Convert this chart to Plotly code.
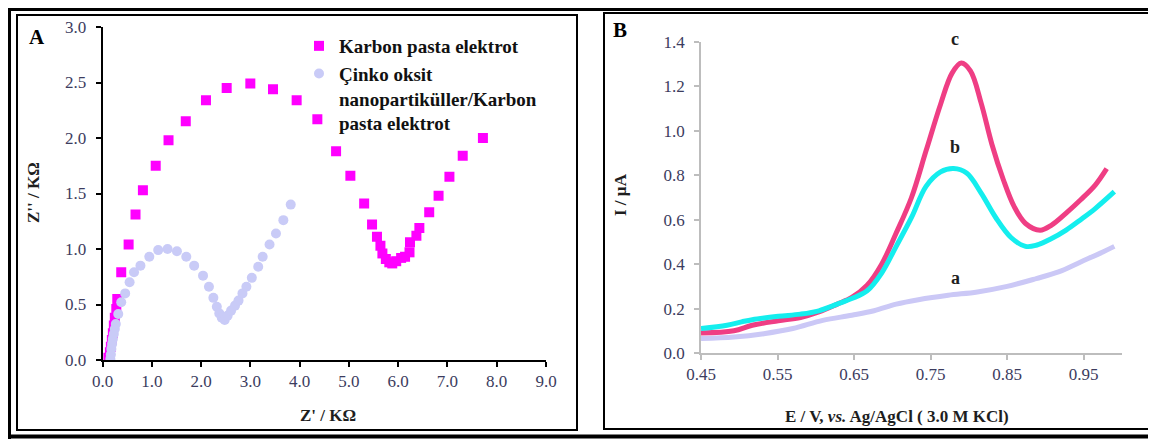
import plotly.graph_objects as go

# Page body has an 8px default margin, so the figure is drawn at (8, 8).
OFF = 8
W, H = 1156 - OFF, 439 - OFF

# ---------------- Panel A data (Nyquist) ----------------
karbon_zre = [0.12, 0.15, 0.17, 0.19, 0.21, 0.23, 0.25, 0.28, 0.30, 0.38, 0.53, 0.67, 0.82, 1.08,
              1.34, 1.69, 2.10, 2.52, 3.00, 3.46, 3.94, 4.36, 4.74, 5.03, 5.31, 5.47, 5.57, 5.64,
              5.68, 5.75, 5.82, 5.88, 5.96, 6.06, 6.14, 6.23, 6.24, 6.37, 6.43, 6.63, 6.82, 7.04,
              7.31, 7.72]
karbon_zim = [0.02, 0.07, 0.12, 0.18, 0.24, 0.31, 0.38, 0.46, 0.55, 0.79, 1.04, 1.31, 1.53, 1.75,
              1.98, 2.15, 2.34, 2.45, 2.49, 2.44, 2.34, 2.17, 1.88, 1.66, 1.41, 1.22, 1.11, 1.03,
              0.96, 0.91, 0.88, 0.87, 0.89, 0.92, 0.93, 0.97, 1.06, 1.12, 1.19, 1.33, 1.48, 1.65,
              1.84, 2.00]

zno_zre = [0.16, 0.17, 0.18, 0.195, 0.21, 0.23, 0.25, 0.27, 0.32, 0.38, 0.46, 0.55, 0.64, 0.77,
           0.95, 1.13, 1.32, 1.51, 1.70, 1.86, 2.04, 2.16, 2.25, 2.32, 2.37, 2.42, 2.48, 2.54,
           2.61, 2.69, 2.76, 2.84, 2.92, 3.03, 3.16, 3.25, 3.39, 3.52, 3.67, 3.82]
zno_zim = [0.01, 0.05, 0.10, 0.145, 0.19, 0.235, 0.28, 0.325, 0.415, 0.52, 0.60, 0.70, 0.79, 0.85,
           0.93, 0.99, 1.00, 0.98, 0.93, 0.85, 0.76, 0.66, 0.56, 0.48, 0.42, 0.38, 0.36, 0.40,
           0.445, 0.49, 0.535, 0.60, 0.66, 0.74, 0.84, 0.93, 1.04, 1.14, 1.26, 1.40]

a_xticks = [0, 1, 2, 3, 4, 5, 6, 7, 8, 9]
a_yticks = [0, 0.5, 1.0, 1.5, 2.0, 2.5, 3.0]

# ---------------- Panel B data (DPV) ----------------
c_E = [0.45, 0.493, 0.517, 0.551, 0.58, 0.604, 0.628, 0.647, 0.667, 0.686, 0.705, 0.725, 0.744,
       0.763, 0.778, 0.790, 0.802, 0.816, 0.830, 0.845, 0.859, 0.874, 0.893, 0.908, 0.927, 0.946,
       0.965, 0.980]
c_I = [0.09, 0.10, 0.125, 0.145, 0.16, 0.185, 0.22, 0.25, 0.305, 0.40, 0.54, 0.70, 0.91,
       1.12, 1.26, 1.305, 1.27, 1.125, 0.94, 0.78, 0.66, 0.583, 0.553, 0.576, 0.63, 0.69,
       0.756, 0.83]

b_E = [0.45, 0.484, 0.503, 0.517, 0.551, 0.58, 0.604, 0.628, 0.647, 0.667, 0.686, 0.705, 0.725,
       0.744, 0.763, 0.780, 0.797, 0.816, 0.835, 0.855, 0.874, 0.888, 0.908, 0.927, 0.946, 0.965,
       0.990]
b_I = [0.11, 0.125, 0.14, 0.15, 0.165, 0.175, 0.19, 0.22, 0.245, 0.28, 0.36, 0.48, 0.61,
       0.75, 0.815, 0.83, 0.81, 0.72, 0.61, 0.52, 0.48, 0.485, 0.515, 0.553, 0.60, 0.65,
       0.726]

a_E = [0.45, 0.493, 0.532, 0.57, 0.609, 0.647, 0.676, 0.705, 0.734, 0.773, 0.811, 0.85, 0.888,
       0.917, 0.946, 0.975, 0.990]
a_I = [0.065, 0.072, 0.087, 0.11, 0.147, 0.17, 0.19, 0.22, 0.24, 0.26, 0.275, 0.30, 0.335,
       0.365, 0.41, 0.455, 0.48]

b_xticks = [0.45, 0.55, 0.65, 0.75, 0.85, 0.95]
b_yticks = [0.0, 0.2, 0.4, 0.6, 0.8, 1.0, 1.2, 1.4]

curve_labels = ["b", "a"]
label_E = [0.782, 0.782]
label_I = [0.928, 0.338]

SERIF = "Liberation Serif"
TICKCOL = "#3c3c5e"
TITLECOL = "#1e1e1e"


def px_x(p):
    return (p - OFF) / W


def px_y(p):
    return 1 - (p - OFF) / H


fig = go.Figure()

fig.add_trace(go.Scatter(
    x=karbon_zre, y=karbon_zim, mode="markers", name="Karbon pasta elektrot",
    marker=dict(symbol="square", size=10, color="#FF00FF"),
    xaxis="x", yaxis="y"))
fig.add_trace(go.Scatter(
    x=zno_zre, y=zno_zim, mode="markers",
    name="Çinko oksit<br>nanopartiküller/Karbon<br>pasta elektrot",
    marker=dict(symbol="circle", size=10, color="#C9CBF7"),
    xaxis="x", yaxis="y"))

fig.add_trace(go.Scatter(x=a_E, y=a_I, mode="lines", showlegend=False,
                         line=dict(color="#CBC8F6", width=5, shape="spline"),
                         xaxis="x2", yaxis="y2"))
fig.add_trace(go.Scatter(x=c_E, y=c_I, mode="lines", showlegend=False,
                         line=dict(color="#EF3E84", width=5, shape="spline"),
                         xaxis="x2", yaxis="y2"))
fig.add_trace(go.Scatter(x=b_E, y=b_I, mode="lines", showlegend=False,
                         line=dict(color="#14EEEE", width=5, shape="spline"),
                         xaxis="x2", yaxis="y2"))

tickfont = dict(family=SERIF, size=17, color=TICKCOL)

fig.update_layout(
    width=W, height=H,
    margin=dict(l=0, r=0, t=0, b=0),
    paper_bgcolor="white", plot_bgcolor="white",
    font=dict(family=SERIF),
    xaxis=dict(domain=[px_x(102.5), px_x(546)], range=[0, 9], tickvals=a_xticks,
               tickformat=".1f", showgrid=False, zeroline=False,
               showline=True, linecolor="black", linewidth=1.5,
               ticks="outside", ticklen=5, tickcolor="black", tickwidth=1.5,
               tickfont=tickfont, anchor="y", automargin=False),
    yaxis=dict(domain=[px_y(360), px_y(27)], range=[0, 3], tickvals=a_yticks,
               tickformat=".1f", showgrid=False, zeroline=False,
               showline=True, linecolor="black", linewidth=1.5,
               ticks="outside", ticklen=5, tickcolor="black", tickwidth=1.5,
               ticklabelstandoff=6,
               tickfont=tickfont, anchor="x", automargin=False),
    xaxis2=dict(domain=[px_x(701), px_x(1122)], range=[0.45, 1.0], tickvals=b_xticks,
                tickformat=".2f", showgrid=False, zeroline=False,
                showline=True, linecolor="#BDBDBD", linewidth=1.5,
                ticks="outside", ticklen=5, tickcolor="#BDBDBD", tickwidth=1.5,
                tickfont=tickfont, anchor="y2", automargin=False),
    yaxis2=dict(domain=[px_y(353), px_y(42)], range=[0, 1.4], tickvals=b_yticks,
                tickformat=".1f", showgrid=False, zeroline=False,
                showline=True, linecolor="#BDBDBD", linewidth=1.5,
                ticks="outside", ticklen=5, tickcolor="#BDBDBD", tickwidth=1.5,
                ticklabelstandoff=6,
                tickfont=tickfont, anchor="x2", automargin=False),
    legend=dict(x=px_x(299), y=px_y(27), xanchor="left", yanchor="top",
                bgcolor="rgba(0,0,0,0)", valign="top", tracegroupgap=0,
                font=dict(family=SERIF, size=19, color="#111111", weight="bold")),
    showlegend=True,
)


def ann(text, x, y, size, color=TITLECOL, angle=0, xref="paper", yref="paper"):
    return dict(text=text, x=x, y=y, xref=xref, yref=yref, showarrow=False,
                xanchor="center", yanchor="middle", textangle=angle,
                font=dict(family=SERIF, size=size, color=color))


annotations = [
    ann("<b>A</b>", px_x(37), px_y(37), 21, "black"),
    ann("<b>B</b>", px_x(620), px_y(30), 21, "black"),
    ann("<b>Z' / KΩ</b>", px_x(328), px_y(415), 17),
    ann("<b>Z'' / KΩ</b>", px_x(33), px_y(193), 17, angle=-90),
    ann("<b>E / V, <i>vs.</i> Ag/AgCl ( 3.0 M KCl)</b>", px_x(897), px_y(416), 17),
    ann("<b>I / µA</b>", px_x(620), px_y(194), 17, angle=-90),
    # label of curve c sits just above the plotting range, so place it in paper units
    ann("<b>c</b>", px_x(955), px_y(39), 18),
]
for t, e, i in zip(curve_labels, label_E, label_I):
    annotations.append(ann("<b>" + t + "</b>", e, i, 18, xref="x2", yref="y2"))
fig.update_layout(annotations=annotations)

shapes = []
# panel borders
shapes.append(dict(type="rect", xref="paper", yref="paper", x0=px_x(17), x1=px_x(577),
                   y0=px_y(430), y1=px_y(15), line=dict(color="black", width=2)))
shapes.append(dict(type="rect", xref="paper", yref="paper", x0=px_x(604), x1=px_x(1150),
                   y0=px_y(429), y1=px_y(13), line=dict(color="black", width=2)))
# outer thick frame (top, left, bottom)
shapes.append(dict(type="line", xref="paper", yref="paper", x0=0, x1=1,
                   y0=1, y1=1, line=dict(color="black", width=6)))
shapes.append(dict(type="line", xref="paper", yref="paper", x0=0, x1=0,
                   y0=0, y1=1, line=dict(color="black", width=6)))
shapes.append(dict(type="line", xref="paper", yref="paper", x0=0, x1=px_x(1154),
                   y0=px_y(436.5), y1=px_y(436.5), line=dict(color="black", width=4)))
fig.update_layout(shapes=shapes)

fig.write_html("out.html")
